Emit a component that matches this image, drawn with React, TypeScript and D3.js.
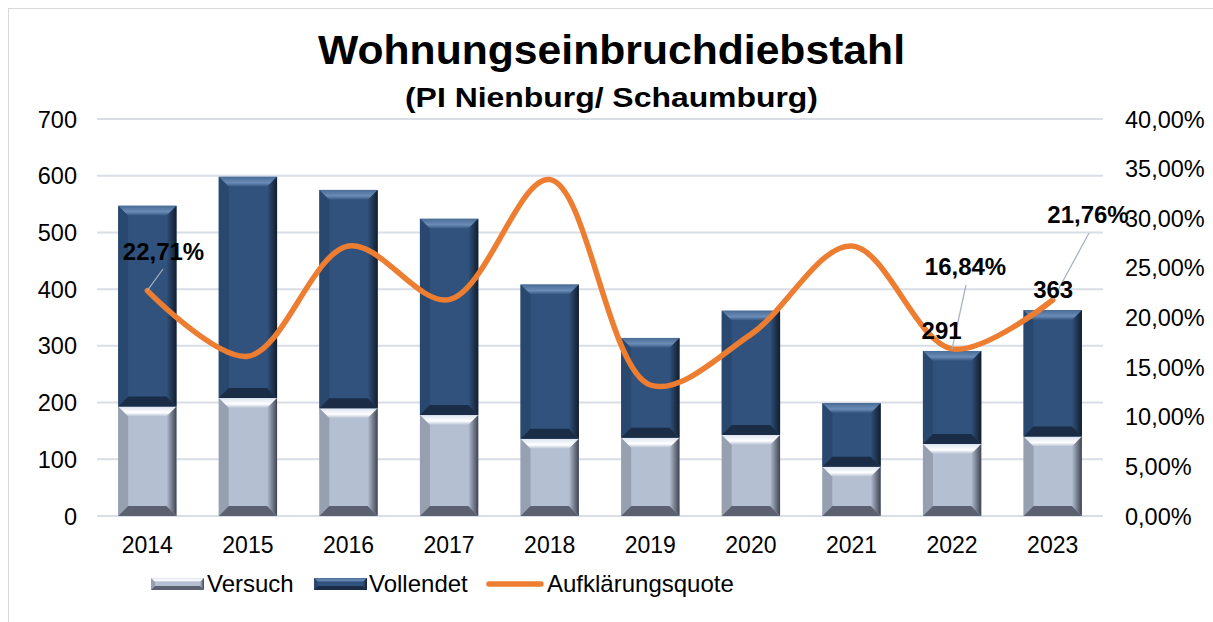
import React from "react";
import * as d3 from "d3";

const years = ["2014", "2015", "2016", "2017", "2018", "2019", "2020", "2021", "2022", "2023"];
const versuch = [193, 208, 190, 178, 136, 138, 143, 87, 127, 140];
const vollendet = [354, 390, 385, 346, 272, 176, 219, 112, 164, 223];
const quote = [22.71, 16.1, 27.2, 21.8, 33.9, 13.2, 18.3, 27.2, 16.84, 21.76];
const leftTicks = [0, 100, 200, 300, 400, 500, 600, 700];
const rightTicks = [0, 5, 10, 15, 20, 25, 30, 35, 40];

const W = 1213, H = 622;
const plot = { left: 97, right: 1103, top: 119, bottom: 516 };
const FONT = "'Liberation Sans', Arial, sans-serif";

const x = d3.scaleBand<string>().domain(years).range([plot.left, plot.right]).paddingInner(0.42).paddingOuter(0.21);
const yL = d3.scaleLinear().domain([0, 700]).range([plot.bottom, plot.top]);
const yR = d3.scaleLinear().domain([0, 40]).range([plot.bottom, plot.top]);
const fmtPct = (v: number) => v.toFixed(2).replace(".", ",") + "%";

type Pal = { base: string; top: string; topHi: string; left: string; right: string; bottom: string };
const palV: Pal = { base: "#B4BFD2", top: "#DCE4F0", topHi: "#FFFFFF", left: "#8E98A8", right: "#3E4350", bottom: "#5B6170" };
const palC: Pal = { base: "#30527D", top: "#4A6D98", topHi: "#6A8CB6", left: "#28466C", right: "#121D2C", bottom: "#1B2D46" };

function Bevel({ x0, y0, w, h, pal, id }: { x0: number; y0: number; w: number; h: number; pal: Pal; id: string }) {
  const b = Math.min(10, h / 3, w / 4);
  const x1 = x0 + w, y1 = y0 + h;
  const pts = (a: number[][]) => a.map((p) => p.join(",")).join(" ");
  return (
    <g>
      <rect x={x0} y={y0} width={w} height={h} fill={pal.base} />
      <polygon points={pts([[x0, y0], [x1, y0], [x1 - b, y0 + b], [x0 + b, y0 + b]])} fill={`url(#top-${id})`} />
      <polygon points={pts([[x0, y0], [x0 + b, y0 + b], [x0 + b, y1 - b], [x0, y1]])} fill={pal.left} opacity={0.8} />
      <polygon points={pts([[x1, y0], [x1, y1], [x1 - b, y1 - b], [x1 - b, y0 + b]])} fill={`url(#right-${id})`} />
      <polygon points={pts([[x0, y1], [x0 + b, y1 - b], [x1 - b, y1 - b], [x1, y1]])} fill={pal.bottom} />
    </g>
  );
}

export default function App() {
  const bw = x.bandwidth();
  const pts: [number, number][] = years.map((yr, i) => [x(yr)! + bw / 2, yR(quote[i])]);
  const line = d3.line().curve(d3.curveCatmullRom.alpha(0.5))(pts) || "";

  const labels = [
    { i: 0, text: fmtPct(quote[0]), lx: 163.5, ly: 260, ex: 163, ey: 269 },
    { i: 8, text: fmtPct(quote[8]), lx: 965.5, ly: 275, ex: 966, ey: 285 },
    { i: 9, text: fmtPct(quote[9]), lx: 1088, ly: 223, ex: 1089, ey: 233 },
  ];
  const totals = [
    { i: 8, dx: -10.5 },
    { i: 9, dx: 0.5 },
  ];

  const defs = (name: string, pal: Pal) => (
    <>
      <linearGradient id={`top-${name}`} x1="0" y1="0" x2="0" y2="1">
        <stop offset="0" stopColor={pal.top} />
        <stop offset="0.6" stopColor={pal.topHi} />
        <stop offset="1" stopColor={pal.base} />
      </linearGradient>
      <linearGradient id={`right-${name}`} x1="0" y1="0" x2="1" y2="0">
        <stop offset="0" stopColor={pal.base} />
        <stop offset="1" stopColor={pal.right} />
      </linearGradient>
    </>
  );

  return (
    <svg width={W} height={H} style={{ position: "absolute", left: 0, top: 0, background: "#fff" }} fontFamily={FONT}>
      <defs>
        {defs("v", palV)}
        {defs("c", palC)}
      </defs>
      <rect x={8.5} y={8.5} width={W - 4} height={H - 4} fill="none" stroke="#D9D9D9" />
      <text x={318} y={64} fontSize={41} fontWeight="bold" textLength={587} lengthAdjust="spacingAndGlyphs">Wohnungseinbruchdiebstahl</text>
      <text x={405} y={107} fontSize={28} fontWeight="bold" textLength={413} lengthAdjust="spacingAndGlyphs">(PI Nienburg/ Schaumburg)</text>

      {leftTicks.map((t) => (
        <g key={t}>
          <line x1={plot.left} x2={plot.right} y1={yL(t)} y2={yL(t)} stroke="#D9DEE6" strokeWidth={2} />
          <text x={77} y={yL(t) + 8.5} textAnchor="end" fontSize={23.5}>{t}</text>
        </g>
      ))}
      {rightTicks.map((t) => (
        <text key={t} x={1125} y={yR(t) + 8.5} fontSize={23.5}>{fmtPct(t)}</text>
      ))}
      {years.map((yr) => (
        <text key={yr} x={x(yr)! + bw / 2} y={553} textAnchor="middle" fontSize={23}>{yr}</text>
      ))}

      {years.map((yr, i) => {
        const x0 = x(yr)!;
        const yV = yL(versuch[i]);
        const yT = yL(versuch[i] + vollendet[i]);
        return (
          <g key={yr}>
            <Bevel x0={x0} y0={yV} w={bw} h={yL(0) - yV} pal={palV} id="v" />
            <Bevel x0={x0} y0={yT} w={bw} h={yV - yT} pal={palC} id="c" />
          </g>
        );
      })}

      <path d={line} fill="none" stroke="#ED7D31" strokeWidth={5.5} strokeLinecap="round" />

      {labels.map((l) => (
        <g key={l.i}>
          <line x1={pts[l.i][0]} y1={pts[l.i][1]} x2={l.ex} y2={l.ey} stroke="#A6AFBF" strokeWidth={1.2} />
          <text x={l.lx} y={l.ly} textAnchor="middle" fontSize={24} fontWeight="bold">{l.text}</text>
        </g>
      ))}
      {totals.map(({ i, dx }) => (
        <text key={i} x={x(years[i])! + bw / 2 + dx} y={yL(versuch[i] + vollendet[i]) - 12} textAnchor="middle" fontSize={24} fontWeight="bold">
          {versuch[i] + vollendet[i]}
        </text>
      ))}

      <g transform="translate(0,584)">
        <Bevel x0={151} y0={-6} w={53} h={12} pal={palV} id="v" />
        <text x={207} y={8} fontSize={24}>Versuch</text>
        <Bevel x0={314} y0={-6} w={53} h={12} pal={palC} id="c" />
        <text x={369} y={8} fontSize={24}>Vollendet</text>
        <line x1={489} x2={541} y1={0} y2={0} stroke="#ED7D31" strokeWidth={5.5} strokeLinecap="round" />
        <text x={547} y={8} fontSize={24}>Aufklärungsquote</text>
      </g>
    </svg>
  );
}
